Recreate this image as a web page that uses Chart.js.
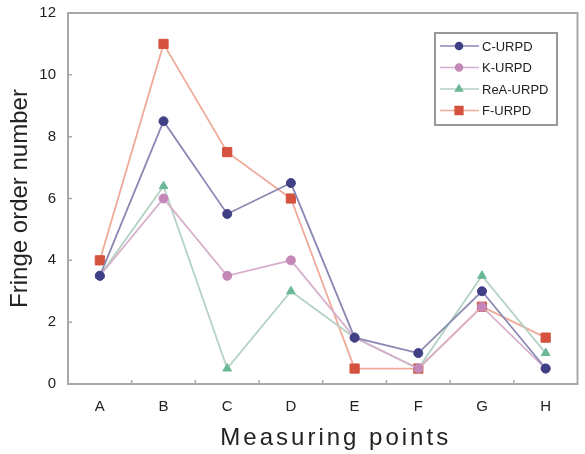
<!DOCTYPE html>
<html>
<head>
  <title>Fringe order number</title>
  <script src="https://cdn.jsdelivr.net/npm/chart.js"></script>
  <style>
    body { margin: 0; background: #fff; }
    #wrap { width: 585px; height: 454px; }
  </style>
</head>
<body>
  <div id="wrap"><canvas id="chart" width="585" height="454"></canvas></div>
  <script>
    const points = ["A", "B", "C", "D", "E", "F", "G", "H"];
    const cUrpd = [3.5, 8.5, 5.5, 6.5, 1.5, 1.0, 3.0, 0.5];
    const kUrpd = [3.5, 6.0, 3.5, 4.0, 1.5, 0.5, 2.5, 0.5];
    const reaUrpd = [3.5, 6.4, 0.5, 3.0, 1.5, 0.5, 3.5, 1.0];
    const fUrpd = [4.0, 11.0, 7.5, 6.0, 0.5, 0.5, 2.5, 1.5];
    const yTicks = [0, 2, 4, 6, 8, 10, 12];

    const font = "'Liberation Sans', Arial, sans-serif";

    function series(label, data, line, fill, shape, r) {
      return {
        label: label,
        data: data,
        borderColor: line,
        borderWidth: 1.8,
        pointStyle: shape,
        pointRadius: r,
        pointBackgroundColor: fill,
        pointBorderColor: fill,
        pointBorderWidth: 1,
        tension: 0
      };
    }

    // plot frame, inward ticks, x title and the boxed legend
    const frameAndLegend = {
      id: "frameAndLegend",
      beforeDatasetsDraw(chart) {
        const ctx = chart.ctx;
        const a = chart.chartArea;
        const xs = chart.scales.x, ys = chart.scales.y;
        ctx.save();
        ctx.strokeStyle = "#a8a8a8";
        ctx.lineWidth = 2;
        ctx.strokeRect(a.left, a.top, a.right - a.left, a.bottom - a.top);
        ctx.lineWidth = 1.5;
        ctx.beginPath();
        for (let i = 1; i < points.length; i++) {
          const x = (xs.getPixelForValue(i - 1) + xs.getPixelForValue(i)) / 2;
          ctx.moveTo(x, a.bottom);
          ctx.lineTo(x, a.bottom - 4);
        }
        yTicks.forEach(v => {
          const y = ys.getPixelForValue(v);
          ctx.moveTo(a.left, y);
          ctx.lineTo(a.left + 4, y);
        });
        ctx.stroke();

        ctx.fillStyle = "#222";
        ctx.font = "24px " + font;
        ctx.letterSpacing = "3px";
        ctx.textAlign = "center";
        ctx.textBaseline = "middle";
        ctx.fillText("Measuring points", (a.left + a.right) / 2 + 13, 438);
        ctx.restore();
      },
      afterDraw(chart) {
        const ctx = chart.ctx;
        const x0 = 435, y0 = 33, w = 122, h = 92;
        ctx.save();
        ctx.fillStyle = "#fff";
        ctx.fillRect(x0, y0, w, h);
        ctx.strokeStyle = "#999";
        ctx.lineWidth = 2;
        ctx.strokeRect(x0, y0, w, h);

        ctx.font = "13px " + font;
        ctx.textBaseline = "middle";
        chart.data.datasets.forEach((ds, i) => {
          const y = y0 + 13 + i * 21.5;
          ctx.strokeStyle = ds.borderColor;
          ctx.lineWidth = 1.5;
          ctx.beginPath();
          ctx.moveTo(x0 + 5, y);
          ctx.lineTo(x0 + 44, y);
          ctx.stroke();
          ctx.fillStyle = ds.pointBackgroundColor;
          ctx.strokeStyle = ds.pointBorderColor;
          Chart.helpers.drawPoint(ctx, { pointStyle: ds.pointStyle, radius: ds.pointRadius - 1, borderWidth: 1 }, x0 + 24, y);
          ctx.fillStyle = "#222";
          ctx.fillText(ds.label, x0 + 47, y + 1);
        });
        ctx.restore();
      }
    };

    new Chart(document.getElementById("chart"), {
      type: "line",
      data: {
        labels: points,
        datasets: [
          series("C-URPD", cUrpd, "#8a88b4", "#3f3f86", "circle", 4.5),
          series("K-URPD", kUrpd, "#d8b0cc", "#c487b8", "circle", 4.5),
          series("ReA-URPD", reaUrpd, "#b4d2c4", "#6ab896", "triangle", 5),
          series("F-URPD", fUrpd, "#f0aa98", "#d4523e", "rect", 6.5)
        ]
      },
      options: {
        responsive: false,
        animation: false,
        layout: { padding: { top: 10, right: 3, left: 0, bottom: 0 } },
        plugins: {
          legend: { display: false },
          tooltip: { enabled: false }
        },
        scales: {
          x: {
            offset: true,
            grid: { display: false },
            border: { display: false },
            ticks: { color: "#222", font: { family: font, size: 15 }, padding: 6 },
            afterFit(axis) { axis.height = 70; }
          },
          y: {
            min: 0,
            max: 12,
            afterBuildTicks(axis) { axis.ticks = yTicks.map(v => ({ value: v })); },
            grid: { display: false },
            border: { display: false },
            ticks: { color: "#222", font: { family: font, size: 15 }, padding: 4 },
            title: {
              display: true,
              text: "Fringe order number",
              color: "#222",
              font: { family: font, size: 24 },
              padding: { top: 6, bottom: 0 }
            },
            afterFit(axis) { axis.width = 68; }
          }
        }
      },
      plugins: [frameAndLegend]
    });
  </script>
</body>
</html>
